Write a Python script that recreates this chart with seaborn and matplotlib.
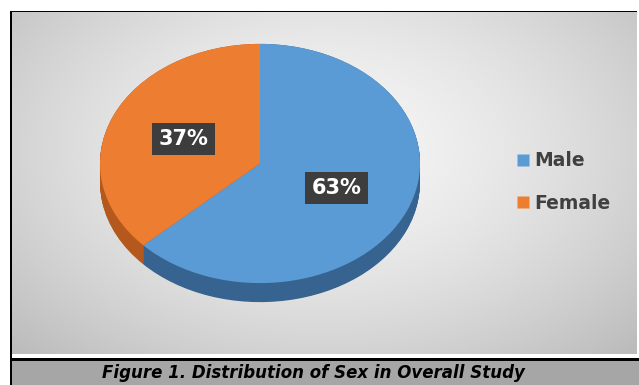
import numpy as np
import matplotlib
matplotlib.use("Agg")
import matplotlib.pyplot as plt
import seaborn as sns
from matplotlib.patches import Rectangle
from matplotlib.lines import Line2D

# data
sexes = ["Male", "Female"]
shares = [63, 37]
top_colors = ["#5b9bd5", "#ed7d31"]
side_colors = ["#36638f", "#b4581d"]
caption = "Figure 1. Distribution of Sex in Overall Study"

sns.set_theme(style="white")
plt.rcParams['font.family'] = ['DejaVu Sans']

W, H = 639, 385
fig = plt.figure(figsize=(W / 100, H / 100), dpi=100)
fig.patch.set_facecolor("white")


def box(x0, y0, x1, y1):
    # pixel box (origin top-left) -> figure rect
    return [x0 / W, 1 - y1 / H, (x1 - x0) / W, (y1 - y0) / H]


def band(x0, y0, x1, y1, color):
    r = box(x0, y0, x1, y1)
    fig.add_artist(Rectangle((r[0], r[1]), r[2], r[3], transform=fig.transFigure,
                             facecolor=color, edgecolor="none", zorder=0))


# radial gray gradient behind the chart
bg = fig.add_axes(box(12, 12, 637, 354))
yy, xx = np.mgrid[0:1:200j, 0:1:320j]
dist = np.sqrt(((xx - 0.5) / 0.8) ** 2 + ((yy - 0.4) / 0.95) ** 2)
shade = np.clip(0.965 - 0.28 * dist ** 1.5, 0, 1)
bg.imshow(shade, cmap="gray", vmin=0, vmax=1, aspect="auto", interpolation="bicubic")
bg.axis("off")

# caption bar and borders
band(12, 361, 639, 385, "#a6a6a6")
band(10, 358, 639, 361, "black")
band(10, 11, 637, 13, "black")
band(10, 11, 12, 385, "black")
fig.text(313 / W, 1 - 373 / H, caption, ha="center", va="center",
         fontsize=12, fontweight="bold", fontstyle="italic", color="black")

# pie: radius 1 -> 160 px wide, 119.5 px tall
ax = fig.add_axes(box(60, 14, 460, 313))
ax.patch.set_alpha(0)
depth = 19 / 119.5
for d in np.linspace(depth, 0, 25):
    ax.pie(shares, colors=side_colors, startangle=90, counterclock=False,
           center=(0, -d), wedgeprops=dict(linewidth=0))

wedges, texts, autotexts = ax.pie(
    shares, colors=top_colors, startangle=90, counterclock=False,
    autopct="%d%%", pctdistance=0.52, wedgeprops=dict(linewidth=0),
    textprops=dict(color="white", fontsize=15, fontweight="bold"))
for t in autotexts:
    t.set_bbox(dict(boxstyle="square,pad=0.3", facecolor="#3d3d3d", edgecolor="none"))
ax.set_aspect("auto")
ax.set_xlim(-1.25, 1.25)
ax.set_ylim(-1.25, 1.25)
ax.axis("off")

handles = [Line2D([0], [0], marker="s", linestyle="none", markersize=8.5,
                  markerfacecolor=c, markeredgecolor="none") for c in top_colors]
fig.legend(handles, sexes, loc="center left", bbox_to_anchor=(515 / W, 1 - 182 / H),
           frameon=False, borderpad=0, borderaxespad=0, handlelength=0.8,
           handletextpad=0.2, labelspacing=1.25,
           prop=dict(size=13.5, weight="bold"), labelcolor="#404040")

fig.savefig("out.png", dpi=100, facecolor=fig.get_facecolor())
